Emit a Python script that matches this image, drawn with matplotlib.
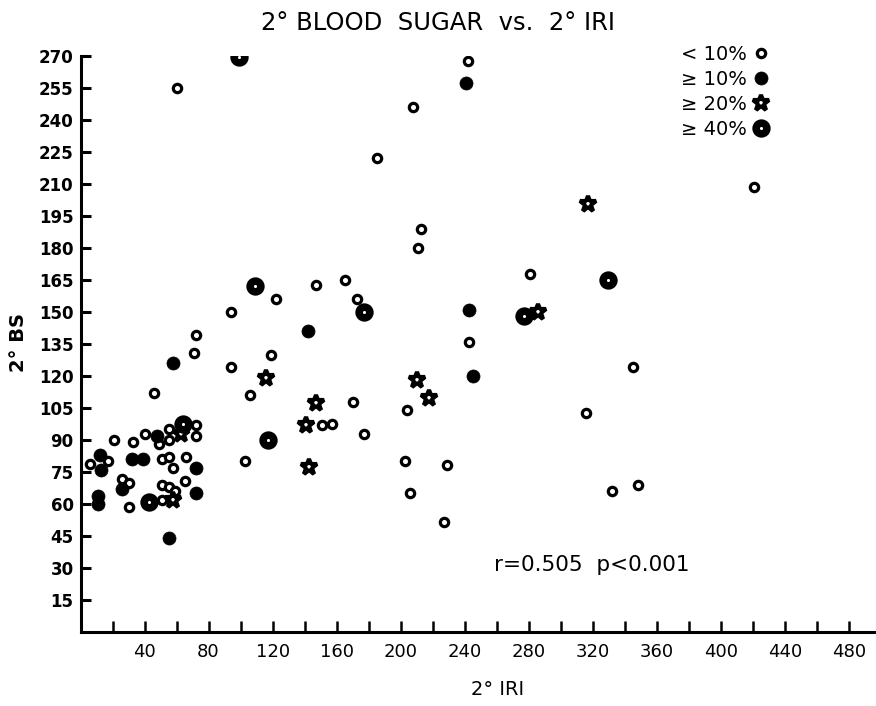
import matplotlib
matplotlib.use("Agg")
import matplotlib.pyplot as plt

# values: x = 2° IRI, y = 2° blood sugar
# "< 10%"  (open circles)
lt10_iri = [6, 17, 21, 26, 30, 30, 33, 40, 46, 49, 51, 51, 51, 55, 55, 55, 55, 58, 59,
            65, 66, 72, 72, 60, 71, 72, 94, 94, 103, 106, 119, 122, 147, 151, 157, 165,
            170, 173, 177, 185, 203, 204, 206, 208, 211, 213, 227, 229, 242, 243, 281,
            316, 332, 345, 348, 421]
lt10_bs = [79, 80, 90, 72, 70, 58.5, 89, 93, 112, 88, 81, 69, 62, 95, 90, 82, 68, 77, 66,
           71, 82, 97, 92, 255, 131, 139, 150, 124, 80, 111, 130, 156, 162.5, 97, 97.5, 165,
           108, 156, 93, 222, 80, 104, 65, 246, 180, 189, 51.5, 78.5, 267.5, 136, 168,
           102.5, 66, 124, 69, 208.5]

# ">= 10%"  (filled circles)
ge10_iri = [11, 11, 12, 13, 26, 32, 39, 48, 55, 58, 72, 72, 142, 241, 243, 245]
ge10_bs = [60, 64, 83, 76, 67, 81, 81, 92, 44, 126, 77, 65, 141, 257, 151, 120]

# ">= 20%"  (stars)
ge20_iri = [58, 63, 116, 141, 143, 147, 210, 218, 286, 317]
ge20_bs = [62, 93, 119, 97, 77.5, 107.5, 118, 109.5, 150, 200.5]

# ">= 40%"  (bullseyes)
ge40_iri = [43, 64, 99, 109, 117, 177, 277, 329.5]
ge40_bs = [61, 97.5, 269.5, 162, 90, 150, 148, 165]

x_ticks = list(range(20, 481, 20))
x_labels = [str(v) if v % 40 == 0 else "" for v in x_ticks]
y_ticks = list(range(15, 271, 15))

fig = plt.figure(figsize=(8.76, 7.06), dpi=100)
ax = fig.add_axes([0.0919, 0.1044, 0.9081, 0.8167])

ax.plot(lt10_iri, lt10_bs, ls="none", marker="o", ms=6.0, mfc="white", mec="black",
        mew=2.3, label="< 10%", zorder=3)
ax.plot(ge10_iri, ge10_bs, ls="none", marker="o", ms=9.4, mfc="black", mec="black",
        mew=0.5, label="≥ 10%", zorder=3)
ax.plot(ge20_iri, ge20_bs, ls="none", marker="*", ms=12, mfc="white", mec="black",
        mew=3.0, label="≥ 20%", zorder=3)
ax.plot(ge40_iri, ge40_bs, ls="none", marker="o", ms=7.8, mfc="white", mec="black",
        mew=5.4, label="≥ 40%", zorder=3)

ax.set_xlim(0, 497)
ax.set_ylim(0, 270)
for s in ("top", "right"):
    ax.spines[s].set_visible(False)
for s in ("left", "bottom"):
    ax.spines[s].set_linewidth(2.2)

ax.set_xticks(x_ticks)
ax.set_xticklabels(x_labels, fontsize=13)
ax.set_yticks(y_ticks)
ax.set_yticklabels([str(v) for v in y_ticks], fontsize=12, fontweight="bold")
ax.tick_params(axis="x", direction="in", length=8, width=1.8, pad=7.5)
ax.tick_params(axis="y", direction="in", length=7, width=2.2, pad=5)

ax.set_xlabel("2° IRI", fontsize=14)
ax.xaxis.set_label_coords((498 - 80.5) / 795.5, (632.3 - 680) / 576.6)
ax.set_ylabel("2° BS", fontsize=14, fontweight="bold")
ax.yaxis.set_label_coords((28 - 80.5) / 795.5, (632.3 - 343) / 576.6)

fig.text(438 / 876, 1 - 23.5 / 706, "2° BLOOD  SUGAR  vs.  2° IRI", fontsize=17.5,
         ha="center", va="center")

ax.text((494 - 80.5) / 795.5, (632.3 - 565) / 576.6, "r=0.505  p<0.001",
        transform=ax.transAxes, fontsize=15.5, ha="left", va="center")

ax.legend(loc="upper left", bbox_to_anchor=((681 - 80.5) / 795.5, (632.3 - 45) / 576.6),
          frameon=False, markerfirst=False, fontsize=14, borderpad=0, borderaxespad=0,
          labelspacing=0.3, handlelength=1.0, handletextpad=0.25)

fig.savefig("out.png", dpi=100)
